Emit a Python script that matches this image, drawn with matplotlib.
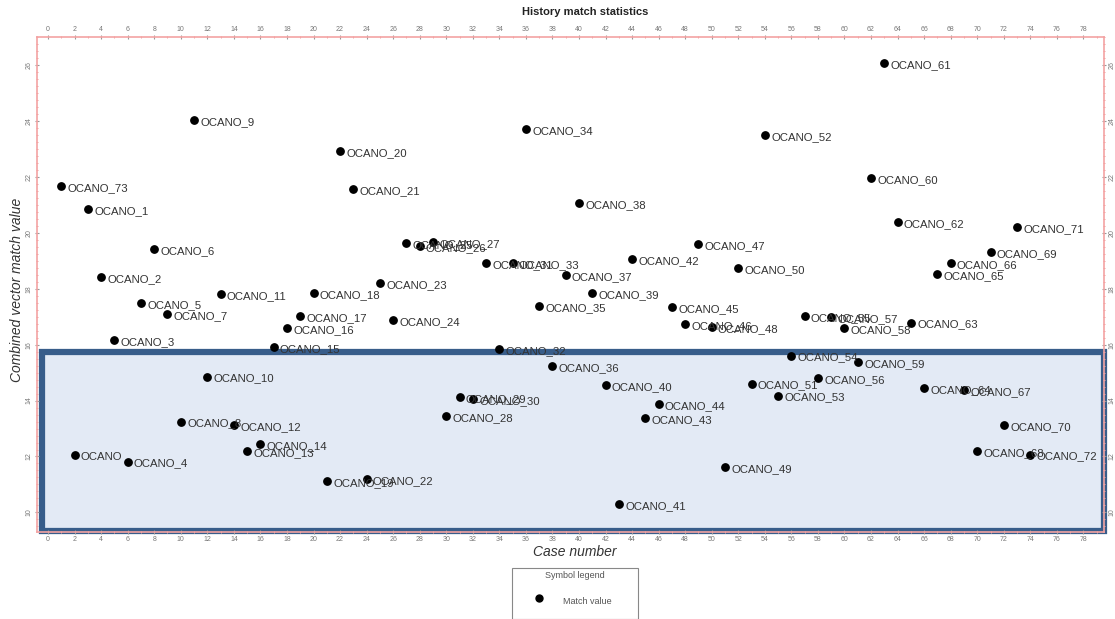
import matplotlib
matplotlib.use("Agg")
import matplotlib.pyplot as plt
from matplotlib.patches import Rectangle
from matplotlib.ticker import MultipleLocator
from matplotlib.lines import Line2D

plt.rcParams['font.family'] = ['Liberation Sans', 'DejaVu Sans']

# Case numbers and combined vector match values
case_numbers = list(range(1, 75))
case_names = ["OCANO_73", "OCANO"] + [f"OCANO_{k}" for k in range(1, 73)]
match_values = [
    21.68, 12.04, 20.86, 18.43, 16.18, 11.82, 17.50, 19.43, 17.11, 13.25,
    24.04, 14.86, 17.82, 13.14, 12.21, 12.46, 15.93, 16.61, 17.04, 17.86,
    11.11, 22.93, 21.57, 11.18, 18.21, 16.89, 19.64, 19.54, 19.68, 13.46,
    14.14, 14.07, 18.93, 15.86, 18.93, 23.71, 17.39, 15.25, 18.50, 21.07,
    17.86, 14.57, 10.29, 19.07, 13.39, 13.89, 17.36, 16.75, 19.61, 16.64,
    11.64, 18.75, 14.61, 23.50, 14.18, 15.61, 17.04, 14.79, 17.00, 16.61,
    15.39, 21.96, 26.07, 20.39, 16.79, 14.46, 18.54, 18.93, 14.39, 12.18,
    19.32, 13.11, 20.21, 12.07,
]

W, H = 1115, 619
fig = plt.figure(figsize=(W / 100, H / 100), dpi=100)
ax = fig.add_axes([37 / W, 1 - 532 / H, (1104 - 37) / W, (532 - 37) / H])
ax.set_xlim(-0.83, 79.55)
ax.set_ylim(9.3, 27.0)

frame_red = '#f3a3a3'
for sp in ax.spines.values():
    sp.set_color(frame_red)
    sp.set_linewidth(1.2)

ax.xaxis.set_major_locator(MultipleLocator(2))
ax.xaxis.set_minor_locator(MultipleLocator(1))
ax.yaxis.set_major_locator(MultipleLocator(2))
ax.yaxis.set_minor_locator(MultipleLocator(0.25))
ax.tick_params(axis='both', which='major', labelsize=5, labelcolor='#777777',
               color='#999999', length=3, width=0.8, direction='inout',
               top=True, labeltop=True, right=True, labelright=True, pad=1.5)
ax.tick_params(axis='both', which='minor', color=frame_red, length=2,
               width=0.7, direction='inout', top=True, right=True)
for lab in ax.get_yticklabels():
    lab.set_rotation(90)
    lab.set_va('center')

# Highlighted low-mismatch region
fig.patches.append(Rectangle((42 / W, 1 - 531 / H), (1104 - 42) / W, (531 - 352) / H,
                             transform=fig.transFigure, facecolor='#e3eaf5',
                             edgecolor='#385d8a', linewidth=4.5, zorder=0.5))
ax.set_facecolor('none')
ax.set_zorder(2)

ax.scatter(case_numbers, match_values, s=28, color='black', zorder=3)
for cx, cy, name in zip(case_numbers, match_values, case_names):
    ax.annotate(name, (cx, cy), xytext=(4.5, -1.5), textcoords='offset points',
                fontsize=8.2, color='#333333', va='center', ha='left', zorder=4)

fig.text(585 / W, 1 - 12 / H, "History match statistics", ha='center', va='center',
         fontsize=8, fontweight='bold', color='#222222')
fig.text(575 / W, 1 - 552 / H, "Case number", ha='center', va='center',
         fontsize=10, style='italic', color='#333333')
fig.text(17 / W, 1 - 290 / H, "Combined vector match value", ha='center', va='center',
         fontsize=10, style='italic', rotation=90, color='#333333')

# Symbol legend box
fig.patches.append(Rectangle((512 / W, 0), (638 - 512) / W, (619 - 568) / H,
                             transform=fig.transFigure, facecolor='white',
                             edgecolor='#888888', linewidth=0.8))
fig.text(575 / W, 1 - 576 / H, "Symbol legend", ha='center', va='center',
         fontsize=6.5, color='#555555')
fig.lines.append(Line2D([539 / W], [1 - 598 / H], transform=fig.transFigure,
                        marker='o', markersize=5, color='black', linestyle='none'))
fig.text(563 / W, 1 - 601 / H, "Match value", ha='left', va='center',
         fontsize=6.5, color='#555555')

fig.savefig("out.png", dpi=100)
